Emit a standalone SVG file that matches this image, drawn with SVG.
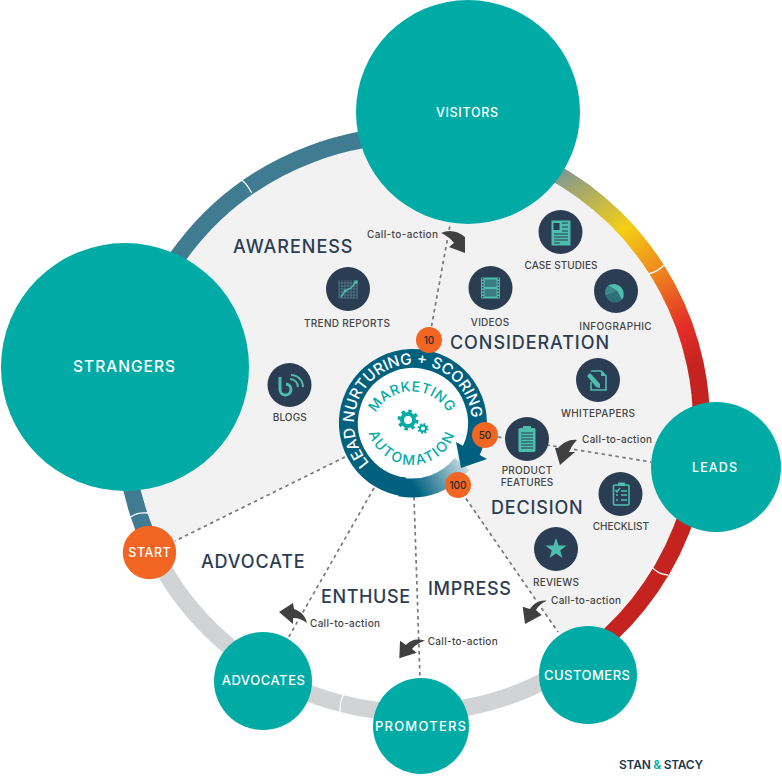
<svg xmlns="http://www.w3.org/2000/svg" width="782" height="776" viewBox="0 0 782 776">
<style>
text{font-family:"Inter","Open Sans","Liberation Sans",sans-serif}
.teal{fill:#00aba5}
.nl{fill:#fff;text-anchor:middle;font-weight:500}
.head{fill:#2b3d52;font-size:18px;font-weight:500}
.lab{fill:#444;font-size:10px;text-anchor:middle;font-weight:500}
.cta{fill:#444;font-size:10px;font-weight:500}
.ic{fill:#2b3d52}
.g{fill:#4dbdae}
.gl{fill:none;stroke:#4dbdae;stroke-width:1.6}
.dk{fill:none;stroke:#2b3d52;stroke-width:1.2}
.badge{fill:#f26522}
.bt{fill:#2b2b2b;font-size:10px;text-anchor:middle;font-weight:500}
.dash{fill:none;stroke:#77787b;stroke-width:1.7;stroke-dasharray:3.5 3.5}
.notch{fill:none;stroke:#fff;stroke-width:1.3}
.arr{fill:#404040}
.ring{fill:none;stroke-width:17}
.mk{fill:#00aba5;font-size:14px;font-weight:500}
</style>
<defs>
<linearGradient id="heat" gradientUnits="userSpaceOnUse" x1="560" y1="175" x2="695" y2="370">
<stop offset="0" stop-color="#84998f"/>
<stop offset=".34" stop-color="#f4cf14"/>
<stop offset=".56" stop-color="#ef8a1e"/>
<stop offset=".82" stop-color="#e42e27"/>
<stop offset="1" stop-color="#c4231f"/>
</linearGradient>
<linearGradient id="tail" gradientUnits="userSpaceOnUse" x1="410" y1="480" x2="466" y2="448">
<stop offset="0" stop-color="#00617f"/>
<stop offset="1" stop-color="#e6eff2"/>
</linearGradient>
<path id="pLead" d="M369.4 462.9A59 59 0 1 1 471.8 418.4"/>
<path id="pMark" d="M370.5 433A41.5 41.5 0 1 1 453.5 433"/>
<path id="pAuto" d="M367 420A45 45 0 0 0 457 420"/>
</defs>

<path id="backdrop" fill="#f2f2f2" d="M413 424L153.6 550.5A288.5 288.5 0 1 1 578 660.7Z"/>

<g id="ring">
<path class="ring" stroke="#d1d3d4" d="M578 660.7A288.5 288.5 0 0 1 153.6 550.5"/>
<path class="ring" stroke="#3f7b91" d="M153.6 550.5A288.5 288.5 0 0 1 468 140.8"/>
<path class="ring" stroke="url(#heat)" d="M468 140.8A288.5 288.5 0 0 1 578 660.7"/>
<path class="notch" d="M241.700 180Q247 184 251.700 193M130.700 517Q137 512 148 513M345 693Q340 698 340 712M648 274Q658 272 665 264M651.700 566.700Q657 574 668 575"/>
</g>

<g id="connectors">
<path class="dash" d="M429 340L450 225"/>
<path class="dash" d="M498 437L651 462"/>
<path class="dash" d="M345 457L175 541"/>
<path class="dash" d="M374 488L287 640"/>
<path class="dash" d="M414 497L420 678"/>
<path class="dash" d="M458 487L558 632"/>
<path class="arr" d="M441 233C449 229 458 231 465 237L465 253L449 247L454 243C450 238 446 235 441 233Z"/>
<path class="arr" d="M577 440C570 439 564 442 558 448L555 448L560 465L575 452L569 452C571 447 574 443 577 440Z"/>
<path class="arr" d="M546.700 600.700C540 600 534 603 530 609L522.700 606.700L525 624L541.700 615L536 610C538 606 542 603 546.700 600.700Z"/>
<path class="arr" d="M307 623C306 617 301 611 294 609L293 603L279 612L293 624L293 618C299 618 303 620 307 623Z"/>
<path class="arr" d="M425 640.700C418 638 410 640 406 645L400 640.700L399.300 658.300L416.700 652.700L412 649C415 645 420 642 425 640.700Z"/>
<text class="cta" x="367" y="238.300" textLength="71">Call-to-action</text>
<text class="cta" x="582" y="442.700" textLength="70">Call-to-action</text>
<text class="cta" x="551" y="604" textLength="70">Call-to-action</text>
<text class="cta" x="310" y="626.700" textLength="70">Call-to-action</text>
<text class="cta" x="427.700" y="645" textLength="70">Call-to-action</text>
</g>

<g id="strangers"><circle class="teal" cx="125" cy="367" r="124"/><text class="nl" x="124" y="372" font-size="15.500" textLength="102">STRANGERS</text></g>
<g id="visitors"><circle class="teal" cx="468" cy="112" r="112"/><text class="nl" x="467" y="117" font-size="12.500" textLength="62">VISITORS</text></g>
<g id="leads"><circle class="teal" cx="716" cy="467" r="65"/><text class="nl" x="714.500" y="472" font-size="12.500" textLength="45">LEADS</text></g>
<g id="customers"><circle class="teal" cx="588" cy="675" r="49"/><text class="nl" x="587" y="679.500" font-size="13" textLength="86">CUSTOMERS</text></g>
<g id="promoters"><circle class="teal" cx="421" cy="726" r="48"/><text class="nl" x="420.500" y="730.500" font-size="13" textLength="91">PROMOTERS</text></g>
<g id="advocates"><circle class="teal" cx="263" cy="681" r="49"/><text class="nl" x="263.300" y="685" font-size="13" textLength="83.300">ADVOCATES</text></g>
<g id="start"><circle class="badge" cx="149.500" cy="552.500" r="26.700"/><text class="nl" x="149.500" y="557" font-size="12.500" textLength="42.300">START</text></g>

<g id="hub">
<circle cx="413" cy="423" r="55" fill="#fff"/>
<path fill="none" stroke="url(#tail)" stroke-width="19" d="M400 487A64.500 64.500 0 0 0 462 464"/>
<path fill="none" stroke="#00617f" stroke-width="19" d="M405 487A64.500 64.500 0 1 1 470 453"/>
<path fill="#00617f" d="M456 442L487 459L461 468Z"/>
<text fill="#fff" font-size="15.300" font-weight="500"><textPath href="#pLead">LEAD NURTURING + SCORING</textPath></text>
<text class="mk" text-anchor="middle" letter-spacing=".5"><textPath href="#pMark" startOffset="50%">MARKETING</textPath></text>
<text class="mk" text-anchor="middle" letter-spacing="2"><textPath href="#pAuto" startOffset="50%">AUTOMATION</textPath></text>
<g id="gears" fill="none" stroke="#00aba5">
<circle cx="408" cy="420" r="6" stroke-width="4"/>
<circle cx="408" cy="420" r="9" stroke-width="3" stroke-dasharray="3.500 3.570"/>
<circle cx="423" cy="428.500" r="3" stroke-width="2"/>
<circle cx="423" cy="428.500" r="4.500" stroke-width="2" stroke-dasharray="1.800 1.730"/>
</g>
</g>

<g id="badge-10"><circle class="badge" cx="429" cy="340" r="13"/><text class="bt" x="429" y="344">10</text></g>
<g id="badge-50"><circle class="badge" cx="485" cy="435" r="13"/><text class="bt" x="485" y="439">50</text></g>
<g id="badge-100"><circle class="badge" cx="458" cy="485" r="13"/><text class="bt" x="458" y="489">100</text></g>

<g id="case-studies"><circle class="ic" cx="560.500" cy="232" r="22"/>
<rect class="g" x="551.500" y="220.500" width="19" height="25"/>
<path class="dk" d="M562 223h6M562 227h6M562 231h6M554 234h14M554 237h14M554 240h14M554 243h6"/><rect x="553.500" y="223" width="6" height="7" fill="#2b3d52"/>
<text class="lab" x="561" y="269.300" textLength="73">CASE STUDIES</text></g>
<g id="videos"><circle class="ic" cx="490.500" cy="288" r="22"/>
<rect class="g" x="481" y="277.500" width="19" height="21"/><rect x="484.500" y="279.500" width="12" height="7.500" fill="#3a7c7f"/><rect x="484.500" y="289" width="12" height="7.500" fill="#3a7c7f"/>
<path fill="none" stroke="#2b3d52" stroke-width="1.500" stroke-dasharray="1.500 1.500" d="M482.700 278V298M498.300 278V298"/>
<text class="lab" x="490" y="325.700" textLength="38.300">VIDEOS</text></g>
<g id="infographic"><circle class="ic" cx="616" cy="291" r="22"/>
<path class="g" d="M608 285.500A10.300 10.300 0 0 1 622 300L617 291Z"/><path fill="#3a8a8a" d="M608 285.500L617 291L605.600 296A10.300 10.300 0 0 1 608 285.500Z"/><path fill="#2f6f78" d="M605.600 296L617 291L622 300A10.300 10.300 0 0 1 605.600 296Z"/>
<text class="lab" x="615.500" y="330.300" textLength="72.400">INFOGRAPHIC</text></g>
<g id="whitepapers"><circle class="ic" cx="598" cy="380" r="22"/>
<path class="gl" d="M591 371H601L606 376V390H591V382"/><path fill="#4dbdae" d="M601 370L607 376H601Z"/><path class="g" d="M587 376L590 373L600 384L600 388L596 387Z"/>
<text class="lab" x="598" y="417.300" textLength="74">WHITEPAPERS</text></g>
<g id="trend-reports"><circle class="ic" cx="348" cy="289" r="22"/>
<path fill="none" stroke="#5a8a92" stroke-width=".7" d="M339 280V298M342 280V298M345 280V298M348 280V298M351 280V298M354 280V298M357 280V298M339 283H358M339 286H358M339 289H358M339 292H358M339 295H358M339 298H358"/>
<path fill="none" stroke="#4dbdae" stroke-width="1.500" d="M341 297L345 291L351 288L356 282"/><circle class="g" cx="356" cy="282" r="1.800"/><circle class="g" cx="345" cy="291" r="1.500"/>
<text class="lab" x="347" y="327" textLength="86">TREND REPORTS</text></g>
<g id="blogs"><circle class="ic" cx="289.500" cy="385" r="22"/>
<path fill="none" stroke="#4dbdae" stroke-width="3" d="M280 377V389A5.500 5.500 0 1 0 286 384"/><path fill="none" stroke="#4dbdae" stroke-width="2" d="M290 379A8 8 0 0 1 298 387M291 375A12 12 0 0 1 303 387"/>
<text class="lab" x="289.700" y="421.300" textLength="34">BLOGS</text></g>
<g id="product-features"><circle class="ic" cx="527" cy="439" r="22"/>
<rect class="g" x="518.500" y="428" width="17" height="24" rx="1.500"/><rect class="g" x="523" y="426" width="8" height="4"/>
<path class="dk" d="M521 433h12M521 436h12M521 439h12M521 442h12M521 445h12M521 448h12"/>
<text class="lab" x="527" y="474.300" textLength="50.700">PRODUCT</text><text class="lab" x="527" y="486.300" textLength="52.600">FEATURES</text></g>
<g id="checklist"><circle class="ic" cx="620.500" cy="494" r="22"/>
<rect class="gl" x="613.500" y="485" width="15.500" height="20" rx="1"/><rect class="g" x="618" y="482.500" width="7" height="3.500"/>
<path class="gl" d="M615.500 490l1.500 2 3-4M621 491h6M616 495h2M621 495h6M616 500h2M621 500h6"/>
<text class="lab" x="620.800" y="530.300" textLength="56.300">CHECKLIST</text></g>
<g id="reviews"><circle class="ic" cx="556" cy="549" r="22"/>
<path class="g" d="M556 538L558.600 545.400L566.500 545.600L560.200 550.400L562.500 557.900L556 553.400L549.500 557.900L551.800 550.400L545.500 545.600L553.400 545.400Z"/>
<text class="lab" x="556" y="585.700" textLength="46">REVIEWS</text></g>

<g id="stages">
<text class="head" x="233" y="253.300" textLength="119.500">AWARENESS</text>
<text class="head" x="450" y="349" textLength="159">CONSIDERATION</text>
<text class="head" x="491" y="513.500" textLength="91.700">DECISION</text>
<text class="head" x="428" y="595" textLength="83">IMPRESS</text>
<text class="head" x="321" y="603" textLength="89">ENTHUSE</text>
<text class="head" x="201" y="568" textLength="103.700">ADVOCATE</text>
</g>
<text id="brand" x="619" y="769" font-size="12" font-weight="600" fill="#1f3a4d" textLength="84">STAN <tspan fill="#00aba5">&amp;</tspan> STACY</text>
</svg>
